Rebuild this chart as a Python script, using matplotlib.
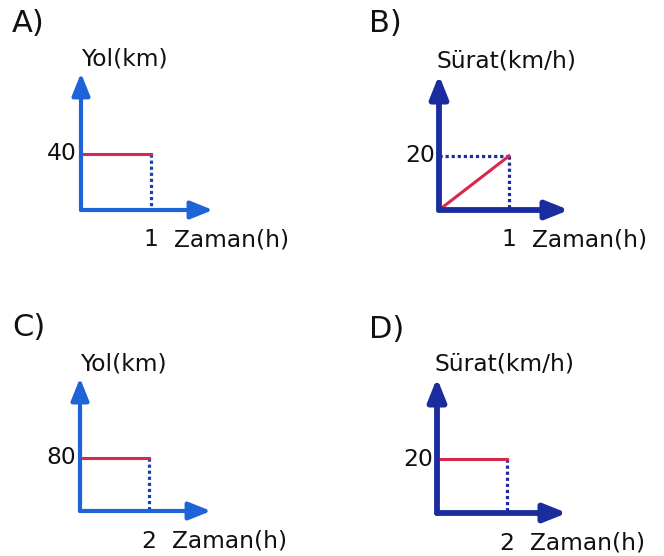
import matplotlib
matplotlib.use("Agg")
import matplotlib.pyplot as plt

# ---- data ----
panel_letters = ["A)", "B)", "C)", "D)"]
y_labels = ["Yol(km)", "Sürat(km/h)", "Yol(km)", "Sürat(km/h)"]
x_label = "Zaman(h)"
time_values = [1, 1, 2, 2]
y_values = [40, 20, 80, 20]
line_kind = ["flat", "ramp", "flat", "flat"]

# ---- layout (pixels, top-left origin) ----
W, H = 664, 556
# origin x, origin y, x-tick px, y-tick px, arrow end x, arrow top y
layout = [
    (81, 210, 151, 154, 213, 73),
    (439, 210, 509, 156, 569, 75),
    (80, 511, 149, 458, 211, 378),
    (437, 513, 507, 459, 567, 378),
]
letter_pos = [(12, 23), (369, 23), (12, 327), (369, 329)]
label_dx = [0, -3, 0, -3]
axis_colors = ["#1f63d8", "#1b2d9e", "#1f63d8", "#1b2d9e"]
axis_lw = [3.0, 4.2, 3.0, 4.2]
dot_colors = ["#1c3fae", "#1b2d9e", "#1c3fae", "#1b2d9e"]
red = "#d8284c"
txt = "#111111"

fig = plt.figure(figsize=(W / 100, H / 100), dpi=100)
fig.patch.set_facecolor("white")
plt.rcParams["font.family"] = ["DejaVu Sans"]
fs = 16.8
dot_style = (0, (1.0, 0.9))

for i in range(4):
    ox, oy, txp, typ, xe, yt = layout[i]
    t, v = time_values[i], y_values[i]
    ax = fig.add_axes([ox / W, 1 - oy / H, (xe - ox) / W, (oy - yt) / H])
    xmax = t * (xe - ox) / (txp - ox)
    ymax = v * (oy - yt) / (oy - typ)
    ax.set_xlim(0, xmax)
    ax.set_ylim(0, ymax)
    ax.axis("off")
    col = axis_colors[i]
    # dotted guides
    ax.plot([t, t], [v, 0], color=dot_colors[i], lw=2.3,
            linestyle=dot_style, dash_capstyle="butt",
            clip_on=False, zorder=2)
    if line_kind[i] == "ramp":
        ax.plot([0, t], [v, v], color=dot_colors[i], lw=2.3,
                linestyle=dot_style, dash_capstyle="butt",
                clip_on=False, zorder=2)
        ax.plot([0, t], [0, v], color=red, lw=2.2, clip_on=False, zorder=3)
    else:
        ax.plot([0, t], [v, v], color=red, lw=2.2, clip_on=False, zorder=3)
    # axes arrows
    ap = dict(arrowstyle="-|>,head_length=0.75,head_width=0.3", color=col,
              lw=axis_lw[i], shrinkA=0, shrinkB=0, mutation_scale=18)
    ax.annotate("", xy=(0, ymax), xytext=(0, 0), xycoords="data",
                arrowprops=ap, annotation_clip=False)
    ax.annotate("", xy=(xmax, 0), xytext=(0, 0), xycoords="data",
                arrowprops=ap, annotation_clip=False)
    # labels
    ax.annotate(str(v), xy=(0, v), xytext=(-4, 0), textcoords="offset pixels",
                ha="right", va="center", fontsize=fs, color=txt,
                annotation_clip=False)
    ax.annotate(str(t), xy=(t, 0), xytext=(0, -30), textcoords="offset pixels",
                ha="center", va="center", fontsize=fs, color=txt,
                annotation_clip=False)
    ax.annotate(x_label, xy=(t, 0), xytext=(23, -30), textcoords="offset pixels",
                ha="left", va="center", fontsize=fs, color=txt,
                annotation_clip=False)
    ax.annotate(y_labels[i], xy=(0, ymax), xytext=(label_dx[i], 14),
                textcoords="offset pixels",
                ha="left", va="center", fontsize=fs, color=txt,
                annotation_clip=False)
    lx, ly = letter_pos[i]
    fig.text(lx / W, 1 - ly / H, panel_letters[i], ha="left", va="center",
             fontsize=22, color=txt)

fig.savefig("out.png", dpi=100, facecolor="white")
